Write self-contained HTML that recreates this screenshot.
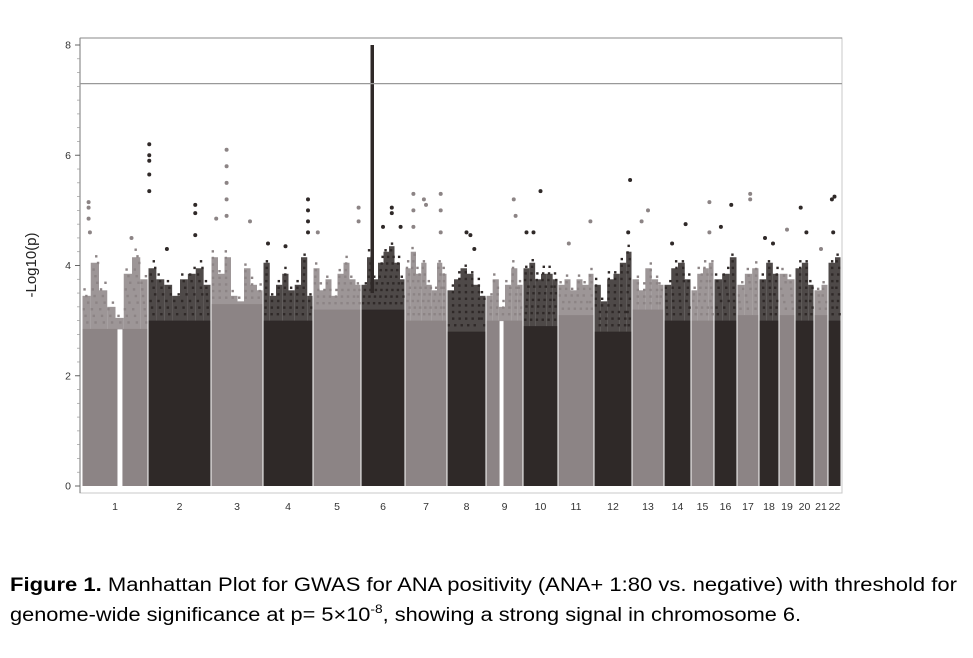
<!DOCTYPE html>
<html><head><meta charset="utf-8"><style>
html,body{margin:0;padding:0;background:#fff;}
svg{display:block;}
</style></head><body>
<svg id="chart" width="973" height="658" viewBox="0 0 973 658" xmlns="http://www.w3.org/2000/svg">
<g id="marks"></g>
<g id="axes"></g>
<text x="0" y="0" transform="translate(36,265) rotate(-90)" text-anchor="middle" font-family="Liberation Sans, sans-serif" font-size="15" fill="#222">-Log10(p)</text>
<g font-family="Liberation Sans, sans-serif" font-size="19" fill="#000">
<text x="10" y="591" textLength="947" lengthAdjust="spacingAndGlyphs"><tspan font-weight="bold">Figure 1.</tspan> Manhattan Plot for GWAS for ANA positivity (ANA+ 1:80 vs. negative) with threshold for</text>
<text x="10" y="621" textLength="791" lengthAdjust="spacingAndGlyphs">genome-wide significance at p= 5×10<tspan font-size="12" dy="-8">-8</tspan><tspan dy="8">, showing a strong signal in chromosome 6.</tspan></text>
</g>
</svg>
<script>
const chromNames = ["1","2","3","4","5","6","7","8","9","10","11","12","13","14","15","16","17","18","19","20","21","22"];
const chromLengths = [66,63,52,50,48,44,42,39,37,35,36,38,32,27,23,23,22,20,16,19,14,13];
const solidLevels = [2.85,3.0,3.3,3.0,3.2,3.2,3.0,2.8,3.0,2.9,3.1,2.8,3.2,3.0,3.0,3.0,3.1,3.0,3.1,3.0,3.1,3.0];
const envelopes = [
 [3.6,4.2,3.7,3.4,3.2,4.0,4.3,3.9],
 [4.1,3.9,3.8,3.6,3.9,4.0,4.1,3.8],
 [4.3,4.0,4.3,3.6,3.5,4.1,3.8,3.7],
 [4.2,3.6,3.8,4.0,3.7,3.8,4.3,3.6],
 [4.1,3.7,3.9,3.6,4.0,4.2,3.9,3.8],
 [3.8,4.3,3.9,4.2,4.4,4.5,4.2,3.9],
 [4.1,4.4,4.0,4.2,3.8,3.7,4.2,4.0],
 [3.7,3.9,4.1,4.0,3.8,3.6],
 [3.6,3.9,3.4,3.8,4.1,3.8],
 [4.1,4.2,3.9,4.0,4.0,3.9],
 [3.8,3.9,3.7,3.9,3.8,4.0],
 [3.8,3.5,3.9,4.0,4.2,4.4],
 [3.9,3.7,4.1,3.9,3.8],
 [3.8,4.1,4.2,3.9],
 [3.7,4.0,4.1,4.2],
 [3.9,4.0,4.3],
 [3.8,4.0,4.1],
 [3.9,4.2,4.0],
 [4.0,3.9],
 [4.1,4.2,3.8],
 [3.7,3.8],
 [4.2,4.3]
];
const hits = [
 [[0.1,5.15],[0.1,5.05],[0.1,4.85],[0.12,4.6],[0.75,4.5]],
 [[0.02,6.2],[0.02,6.0],[0.02,5.9],[0.02,5.65],[0.02,5.35],[0.75,5.1],[0.75,4.95],[0.75,4.55],[0.3,4.3]],
 [[0.3,6.1],[0.3,5.8],[0.3,5.5],[0.3,5.2],[0.3,4.9],[0.1,4.85],[0.75,4.8]],
 [[0.9,5.2],[0.9,5.0],[0.9,4.8],[0.9,4.6],[0.1,4.4],[0.45,4.35]],
 [[0.95,5.05],[0.95,4.8],[0.1,4.6]],
 [[0.5,4.7],[0.7,4.95],[0.7,5.05],[0.9,4.7]],
 [[0.2,5.3],[0.2,5.0],[0.2,4.7],[0.45,5.2],[0.5,5.1],[0.85,5.3],[0.85,5.0],[0.85,4.6]],
 [[0.6,4.55],[0.5,4.6],[0.7,4.3]],
 [[0.75,5.2],[0.8,4.9]],
 [[0.5,5.35],[0.3,4.6],[0.1,4.6]],
 [[0.9,4.8],[0.3,4.4]],
 [[0.95,5.55],[0.9,4.6]],
 [[0.5,5.0],[0.3,4.8]],
 [[0.8,4.75],[0.3,4.4]],
 [[0.8,5.15],[0.8,4.6]],
 [[0.75,5.1],[0.3,4.7]],
 [[0.6,5.3],[0.6,5.2]],
 [[0.3,4.5],[0.7,4.4]],
 [[0.5,4.65]],
 [[0.3,5.05],[0.6,4.6]],
 [[0.5,4.3]],
 [[0.5,5.25],[0.3,5.2],[0.4,4.6]]
];
const peakChrom = 5, peakFrac = 0.25, peakFrom = 3.5, peakTo = 8.0;
const yTicks = [0,2,4,6,8];
const threshold = 7.3;

const NS="http://www.w3.org/2000/svg";
const X0=82, X1=841, Y0=486, Y8=45;
const total = chromLengths.reduce((a,b)=>a+b,0);
const xs = v => X0 + (v/total)*(X1-X0);
const ys = v => Y0 - v*(Y0-Y8)/8;
function mk(tag, attrs, parent){const e=document.createElementNS(NS,tag);for(const k in attrs)e.setAttribute(k,attrs[k]);parent.appendChild(e);return e;}
const marks=document.getElementById('marks'), axes=document.getElementById('axes');
const gaps = {0:[0.545,0.605], 8:[0.38,0.46]};
let cum=0;
chromNames.forEach((name,i)=>{
  const a=xs(cum), b=xs(cum+chromLengths[i]); cum+=chromLengths[i];
  const col = i%2===0 ? "#8c8485" : "#2f2928";
  const g = mk('g',{},marks);
  
  
  const w=b-a;
  const segs = gaps[i] ? [[0,gaps[i][0]],[gaps[i][1],1]] : [[0,1]];
  segs.forEach(s=>{
    const r=mk('rect',{x:a+s[0]*w+0.5,y:ys(solidLevels[i]),width:Math.max(0,(s[1]-s[0])*w-1),height:ys(0)-ys(solidLevels[i]),fill:col},g);
    
    
  });
  const env=envelopes[i], n=env.length;
  env.forEach((v,k)=>{
    const cx=a+(k/n)*w+0.5, cw=w/n-(k===n-1?1:0);
    const r=mk('rect',{x:cx,y:ys(v-0.15),width:Math.max(0.5,cw),height:ys(solidLevels[i])-ys(v-0.15)+0.5,fill:col,opacity:0.85},g);
    
    
    for(let t=solidLevels[i]+0.12;t<v;t+=0.12){
      const d=mk('rect',{x:cx+((t*37)%Math.max(1,cw-2)),y:ys(t)-1,width:2.4,height:2.4,fill:col},g);
      
      
    }
  });
  hits[i].forEach(h=>{
    const c=mk('circle',{cx:a+h[0]*w,cy:ys(h[1]),r:2,fill:col},g);
    
    
  });
  if(i===peakChrom){
    const r=mk('rect',{x:a+peakFrac*w-1.5,y:ys(peakTo),width:3.5,height:ys(peakFrom)-ys(peakTo),fill:col},g);
    
    
  }
  const t=mk('text',{x:(a+b)/2,y:510,'text-anchor':'middle','font-family':'Liberation Sans, sans-serif','font-size':10.5,fill:'#333'},axes);
  t.textContent=name;
  
  
});
const f=mk('rect',{x:80,y:38,width:762,height:455,fill:'none',stroke:'#c8c8c8','stroke-width':1},axes);


const la=mk('line',{x1:80,y1:38,x2:80,y2:493,stroke:'#777','stroke-width':1},axes);


const tl=mk('line',{x1:80,y1:38,x2:842,y2:38,stroke:'#888','stroke-width':1},axes);


for(let v=0;v<=8.001;v+=0.25){
  const tk=mk('line',{x1:77,y1:ys(v),x2:80,y2:ys(v),stroke:'#999','stroke-width':0.7},axes);
  
  
}
yTicks.forEach(v=>{
  const tk=mk('line',{x1:75,y1:ys(v),x2:80,y2:ys(v),stroke:'#666'},axes);
  
  
  const t=mk('text',{x:71,y:ys(v)+3.5,'text-anchor':'end','font-family':'Liberation Sans, sans-serif','font-size':10.5,fill:'#333'},axes);
  t.textContent=v;
  
  
});
const th=mk('line',{x1:80,y1:ys(threshold),x2:842,y2:ys(threshold),stroke:'#999','stroke-width':1.2},axes);


</script>
</body></html>
